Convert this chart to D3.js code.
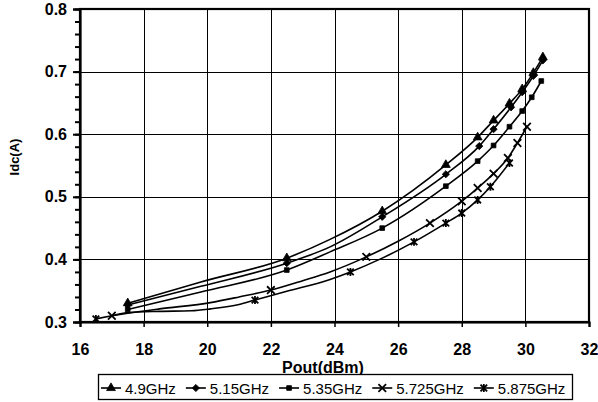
<!DOCTYPE html>
<html>
<head>
<meta charset="utf-8">
<script src="https://cdn.jsdelivr.net/npm/d3@7"></script>
<style>
  body { margin: 0; background: #fff; }
  svg { display: block; }
  text { font-family: "Liberation Sans", Arial, sans-serif; fill: #000; }
</style>
</head>
<body>
<svg id="chart" width="598" height="402"></svg>
<script>
// data
const seriesNames = ["4.9GHz", "5.15GHz", "5.35GHz", "5.725GHz", "5.875GHz"];

const pout49 = [17.5, 19.8, 22.5, 23.86, 25.5, 27.5, 28.5, 29.0, 29.5, 29.9, 30.25, 30.55];
const idc49  = [0.330, 0.364, 0.402, 0.432, 0.477, 0.551, 0.595, 0.622, 0.649, 0.672, 0.698, 0.723];
const marks49 = [17.5, 22.5, 25.5, 27.5, 28.5, 29.0, 29.5, 29.9, 30.25, 30.55];

const pout515 = [17.5, 19.8, 22.5, 23.86, 25.5, 27.5, 28.55, 29.0, 29.55, 29.9, 30.25, 30.55];
const idc515  = [0.327, 0.357, 0.394, 0.420, 0.468, 0.536, 0.581, 0.608, 0.643, 0.667, 0.693, 0.718];
const marks515 = [17.5, 22.5, 25.5, 27.5, 28.55, 29.0, 29.55, 29.9, 30.25, 30.55];

const pout535 = [17.5, 19.8, 22.5, 23.86, 25.5, 27.5, 28.5, 29.0, 29.5, 29.9, 30.2, 30.5];
const idc535  = [0.320, 0.348, 0.383, 0.412, 0.450, 0.517, 0.557, 0.582, 0.612, 0.637, 0.659, 0.685];
const marks535 = [17.5, 22.5, 25.5, 27.5, 28.5, 29.0, 29.5, 29.9, 30.2, 30.5];

const pout5725 = [17.0, 17.5, 18.5, 20.1, 21.0, 22.0, 23.0, 23.86, 25.0, 26.0, 27.0, 28.0, 28.5, 29.0, 29.45, 29.75, 30.05];
const idc5725  = [0.310, 0.314, 0.321, 0.331, 0.340, 0.351, 0.366, 0.380, 0.404, 0.429, 0.458, 0.493, 0.514, 0.537, 0.562, 0.586, 0.612];
const marks5725 = [17.0, 22.0, 25.0, 27.0, 28.0, 28.5, 29.0, 29.45, 29.75, 30.05];

const pout5875 = [16.5, 17.0, 17.5, 18.5, 19.5, 20.1, 21.0, 21.5, 22.5, 23.86, 24.5, 25.5, 26.5, 27.5, 28.0, 28.5, 28.9, 29.5];
const idc5875  = [0.305, 0.310, 0.315, 0.317, 0.318, 0.321, 0.328, 0.335, 0.349, 0.368, 0.380, 0.402, 0.428, 0.458, 0.474, 0.495, 0.516, 0.554];
const marks5875 = [16.5, 21.5, 24.5, 26.5, 27.5, 28.0, 28.5, 28.9, 29.5];

const xTicks = [16, 18, 20, 22, 24, 26, 28, 30, 32];
const yTicks = [0.3, 0.4, 0.5, 0.6, 0.7, 0.8];

// star marker: x with a vertical bar
const symbolStar = {
  draw(ctx, size) {
    const r = Math.sqrt(size) / 2;
    ctx.moveTo(-r, -r); ctx.lineTo(r, r);
    ctx.moveTo(-r, r); ctx.lineTo(r, -r);
    ctx.moveTo(0, -r * 1.2); ctx.lineTo(0, r * 1.2);
  }
};

const series = [
  {name: seriesNames[0], pout: pout49, idc: idc49, marks: marks49, type: d3.symbolTriangle, size: 34, rot: 0, fill: true},
  {name: seriesNames[1], pout: pout515, idc: idc515, marks: marks515, type: d3.symbolSquare, size: 26, rot: 45, fill: true},
  {name: seriesNames[2], pout: pout535, idc: idc535, marks: marks535, type: d3.symbolSquare, size: 22, rot: 0, fill: true},
  {name: seriesNames[3], pout: pout5725, idc: idc5725, marks: marks5725, type: d3.symbolTimes, size: 40, rot: 0, fill: false},
  {name: seriesNames[4], pout: pout5875, idc: idc5875, marks: marks5875, type: symbolStar, size: 44, rot: 0, fill: false}
];

const svg = d3.select("#chart");
const mLeft = 80, mRight = 589, mTop = 9, mBottom = 322;

const x = d3.scaleLinear().domain([16, 32]).range([mLeft, mRight]);
const y = d3.scaleLinear().domain([0.3, 0.8]).range([mBottom, mTop]);

// gridlines
svg.append("g")
  .attr("transform", `translate(0,${mBottom})`)
  .call(d3.axisBottom(x).tickValues(xTicks).tickSize(-(mBottom - mTop)).tickFormat(""))
  .call(g => g.select(".domain").remove())
  .call(g => g.selectAll("line").attr("stroke", "#000").attr("stroke-width", 1).attr("shape-rendering", "crispEdges"));

svg.append("g")
  .attr("transform", `translate(${mLeft},0)`)
  .call(d3.axisLeft(y).tickValues(yTicks).tickSize(-(mRight - mLeft)).tickFormat(""))
  .call(g => g.select(".domain").remove())
  .call(g => g.selectAll("line").attr("stroke", "#000").attr("stroke-width", 1).attr("shape-rendering", "crispEdges"));

// frame
svg.append("rect")
  .attr("x", mLeft).attr("y", mTop)
  .attr("width", mRight - mLeft).attr("height", mBottom - mTop)
  .attr("fill", "none").attr("stroke", "#000").attr("stroke-width", 2.2);

// x axis
const xAxis = svg.append("g")
  .attr("transform", `translate(0,${mBottom})`)
  .call(d3.axisBottom(x).tickValues(xTicks).tickSize(5).tickPadding(17).tickFormat(d3.format("d")));
xAxis.select(".domain").attr("stroke-width", 2.2);
xAxis.selectAll("line").attr("stroke-width", 1.5);
xAxis.selectAll("text").attr("font-size", 16).attr("font-weight", "bold");

// y axis minor ticks
svg.append("g")
  .attr("transform", `translate(${mLeft},0)`)
  .call(d3.axisLeft(y).tickValues(d3.range(0.3, 0.8001, 0.02)).tickSize(5).tickFormat(""))
  .call(g => g.select(".domain").remove())
  .call(g => g.selectAll("line").attr("stroke-width", 2));

const yAxis = svg.append("g")
  .attr("transform", `translate(${mLeft},0)`)
  .call(d3.axisLeft(y).tickValues(yTicks).tickSize(7).tickPadding(6).tickFormat(d3.format(".1f")));
yAxis.select(".domain").attr("stroke-width", 2.2);
yAxis.selectAll("line").attr("stroke-width", 2);
yAxis.selectAll("text").attr("font-size", 16).attr("font-weight", "bold");

// axis titles
svg.append("text")
  .attr("x", 323).attr("y", 373)
  .attr("text-anchor", "middle")
  .attr("font-size", 16).attr("font-weight", "bold")
  .text("Pout(dBm)");

svg.append("text")
  .attr("transform", "translate(19,157) rotate(-90)")
  .attr("text-anchor", "middle")
  .attr("font-size", 13).attr("font-weight", "bold")
  .text("Idc(A)");

// curves
const line = d3.line()
  .x(d => x(d[0]))
  .y(d => y(d[1]))
  .curve(d3.curveMonotoneX);

const plot = svg.append("g");

series.forEach(s => {
  const pts = s.pout.map((p, i) => [p, s.idc[i]]);
  plot.append("path")
    .datum(pts)
    .attr("fill", "none")
    .attr("stroke", "#000")
    .attr("stroke-width", 1.6)
    .attr("d", line);

  const markPts = pts.filter(d => s.marks.includes(d[0]));
  plot.selectAll(null)
    .data(markPts)
    .enter()
    .append("path")
    .attr("transform", d => `translate(${x(d[0])},${y(d[1])}) rotate(${s.rot})`)
    .attr("d", d3.symbol().type(s.type).size(s.size))
    .attr("fill", s.fill ? "#000" : "none")
    .attr("stroke", "#000")
    .attr("stroke-width", s.fill ? 0.8 : 1.8);
});

// legend
const legend = svg.append("g");
legend.append("rect")
  .attr("x", 98.5).attr("y", 374.5)
  .attr("width", 474).attr("height", 25)
  .attr("fill", "#fff").attr("stroke", "#000").attr("stroke-width", 1.3);

let lx = 101;
series.forEach(s => {
  const item = legend.append("g").attr("transform", `translate(${lx},388)`);
  item.append("line")
    .attr("x1", 0).attr("x2", 20)
    .attr("stroke", "#000").attr("stroke-width", 1.6);
  item.append("path")
    .attr("transform", `translate(10,0) rotate(${s.rot})`)
    .attr("d", d3.symbol().type(s.type).size(s.size))
    .attr("fill", s.fill ? "#000" : "none")
    .attr("stroke", "#000")
    .attr("stroke-width", s.fill ? 0.8 : 1.8);
  const t = item.append("text")
    .attr("x", 24).attr("y", 5.5)
    .attr("font-size", 15)
    .text(s.name);
  lx += 24 + t.node().getComputedTextLength() + 10;
});
</script>
</body>
</html>
